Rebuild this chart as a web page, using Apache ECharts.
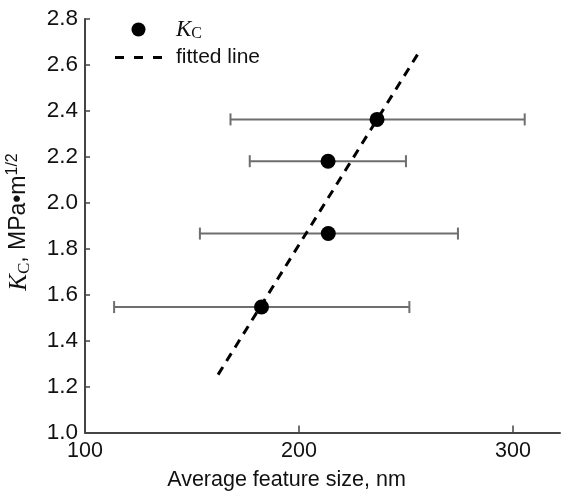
<!DOCTYPE html>
<html>
<head>
<meta charset="utf-8">
<script src="https://cdn.jsdelivr.net/npm/echarts@6/dist/echarts.min.js"></script>
<style>
html,body{margin:0;padding:0;background:#fff;}
#chart{width:561px;height:493px;}
</style>
</head>
<body>
<div id="chart"></div>
<script>
// Data
var kcSize = [236.5, 213.6, 213.7, 182.5];   // average feature size, nm
var kcValue = [2.363, 2.181, 1.866, 1.546];  // K_C, MPa·m^1/2
var sizeLow = [168.0, 177.0, 153.7, 113.6];  // error bar lower bound
var sizeHigh = [305.5, 250.0, 274.3, 251.6]; // error bar upper bound
var fitSize = [162.2, 257.0];                // fitted line endpoints (x)
var fitValue = [1.252, 2.669];               // fitted line endpoints (y)
var xTicks = [100, 200, 300];
var yTicks = [1.0, 1.2, 1.4, 1.6, 1.8, 2.0, 2.2, 2.4, 2.6, 2.8];

var sans = '"Liberation Sans", Arial, sans-serif';
var serif = '"Liberation Serif", "Times New Roman", serif';

var scatterData = kcSize.map(function (x, i) { return [x, kcValue[i]]; });
var barData = kcValue.map(function (y, i) { return [sizeLow[i], sizeHigh[i], y]; });
var fitData = fitSize.map(function (x, i) { return [x, fitValue[i]]; });

var chart = echarts.init(document.getElementById('chart'), null, {renderer: 'canvas'});
chart.setOption({
  animation: false,
  backgroundColor: '#fff',
  grid: {left: 85, right: 1, top: 19, bottom: 60.5, containLabel: false, outerBoundsMode: 'none'},
  legend: {
    orient: 'vertical',
    left: 110,
    top: 12,
    itemWidth: 47,
    itemHeight: 14,
    itemGap: 5,
    selectedMode: false,
    data: [
      {name: 'KC', icon: 'circle', itemStyle: {color: '#000', opacity: 1}},
      {name: 'fitted line', icon: 'path://M0,0h9v3h-9z M19,0h9v3h-9z M38,0h9v3h-9z', itemStyle: {color: '#000', opacity: 1}}
    ],
    formatter: function (name) {
      if (name === 'KC') return '{k|K}{s|C}';
      return '{t|fitted line}';
    },
    textStyle: {
      color: '#111',
      padding: [0, 0, 0, 9],
      rich: {
        k: {fontFamily: serif, fontStyle: 'italic', fontSize: 23, lineHeight: 20, color: '#111'},
        s: {fontFamily: serif, fontSize: 16, lineHeight: 16, padding: [9, 0, 0, 0], color: '#111'},
        t: {fontFamily: sans, fontSize: 21, lineHeight: 20, color: '#111'}
      }
    }
  },
  graphic: [
    {
      type: 'text',
      x: 19,
      y: 222,
      rotation: Math.PI / 2,
      style: {
        text: '{k|K}{s|C}{t|, MPa•m}{p|1/2}',
        align: 'center',
        verticalAlign: 'middle',
        rich: {
          k: {fontFamily: serif, fontStyle: 'italic', fontSize: 25, lineHeight: 28, fill: '#111'},
          s: {fontFamily: serif, fontSize: 17, lineHeight: 12, verticalAlign: 'bottom', fill: '#111'},
          t: {fontFamily: sans, fontSize: 23, lineHeight: 28, fill: '#111'},
          p: {fontFamily: sans, fontSize: 16, lineHeight: 14, verticalAlign: 'top', fill: '#111'}
        }
      }
    }
  ],
  xAxis: {
    type: 'value',
    min: 100,
    max: 322,
    interval: 100,
    splitLine: {show: false},
    axisLine: {lineStyle: {color: '#444', width: 2}},
    axisTick: {inside: true, length: 7, lineStyle: {color: '#444', width: 1.5}, customValues: xTicks},
    axisLabel: {color: '#111', fontFamily: sans, fontSize: 21.5, margin: 8, customValues: xTicks},
    name: 'Average feature size, nm',
    nameLocation: 'middle',
    nameGap: 37,
    nameTextStyle: {color: '#111', fontFamily: sans, fontSize: 21.5, padding: [0, 72, 0, 0]}
  },
  yAxis: {
    type: 'value',
    min: 1.0,
    max: 2.8,
    interval: 0.2,
    splitLine: {show: false},
    axisLine: {lineStyle: {color: '#444', width: 2}},
    axisTick: {inside: true, length: 5, lineStyle: {color: '#444', width: 1.5}, customValues: yTicks},
    axisLabel: {color: '#111', fontFamily: sans, fontSize: 22.5, margin: 7, customValues: yTicks,
      formatter: function (v) { return v.toFixed(1); }}
  },
  series: [
    {
      type: 'custom',
      name: 'errorbars',
      data: barData,
      encode: {x: [0, 1], y: 2},
      z: 2,
      renderItem: function (params, api) {
        var lo = api.coord([api.value(0), api.value(2)]);
        var hi = api.coord([api.value(1), api.value(2)]);
        var cap = 6;
        var style = {stroke: '#6e6e6e', lineWidth: 2, fill: null};
        return {
          type: 'group',
          children: [
            {type: 'line', shape: {x1: lo[0], y1: lo[1], x2: hi[0], y2: hi[1]}, style: style},
            {type: 'line', shape: {x1: lo[0], y1: lo[1] - cap, x2: lo[0], y2: lo[1] + cap}, style: style},
            {type: 'line', shape: {x1: hi[0], y1: hi[1] - cap, x2: hi[0], y2: hi[1] + cap}, style: style}
          ]
        };
      }
    },
    {
      type: 'line',
      name: 'fitted line',
      data: fitData,
      symbol: 'none',
      z: 3,
      lineStyle: {color: '#000', width: 3, type: [9, 7]},
      itemStyle: {color: '#000'}
    },
    {
      type: 'scatter',
      name: 'KC',
      data: scatterData,
      symbol: 'circle',
      symbolSize: 15,
      z: 4,
      itemStyle: {color: '#000', opacity: 1}
    }
  ]
});
</script>
</body>
</html>
